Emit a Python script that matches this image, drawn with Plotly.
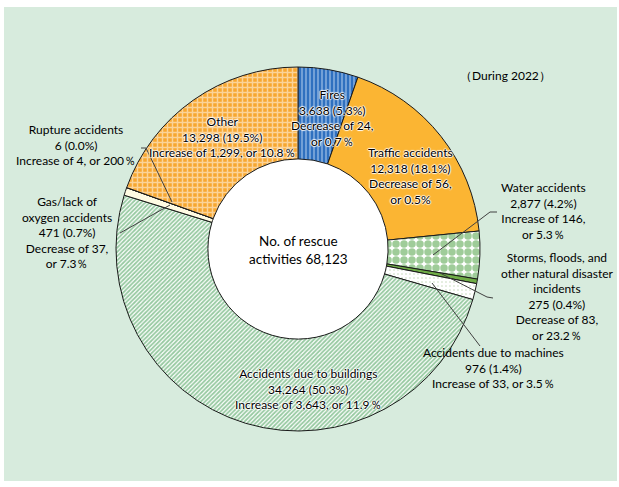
import plotly.graph_objects as go

# ---- data ----
categories = ["Fires", "Traffic accidents", "Water accidents",
              "Storms, floods, and other natural disaster incidents",
              "Accidents due to machines", "Accidents due to buildings",
              "Gas/lack of oxygen accidents", "Rupture accidents", "Other"]
values = [3638, 12318, 2877, 275, 976, 34264, 471, 6, 13298]
total = 68123

W, H = 619, 487
FONT = "Lato"
GREEN_BG = "#d7ebdd"

# slice styles
bg_colors = ["#2f70bf", "#fbb533", "#ffffff", "#70ad47", "#ffffff", "#ffffff", "#fffbe3", "#ffffff", "#f7a730"]
pat_shapes = ["|", "", ".", "", ".", "/", "", "", "+"]
pat_fg = ["#c4dcf3", "#fbb533", "#3f9a34", "#70ad47", "#7fae6a", "#2f9443", "#fffbe3", "#ffffff", "#ffffff"]
pat_size = [4, 6, 8, 6, 4, 3, 6, 6, 5]
pat_sol = [0.45, 0.3, 0.7, 0.3, 0.12, 0.6, 0.3, 0.3, 0.5]

cx, cy, R = 298, 249, 182
HOLE = 0.495
fig = go.Figure()
fig.add_trace(go.Pie(
    labels=categories, values=values, sort=False, direction="clockwise", rotation=0,
    hole=HOLE, textinfo="none", hoverinfo="label+value+percent",
    marker=dict(colors=bg_colors, line=dict(color="#1a1a1a", width=1),
                pattern=dict(shape=pat_shapes, fgcolor=pat_fg, bgcolor=bg_colors,
                             size=pat_size, solidity=pat_sol, fillmode="overlay")),
    domain=dict(x=[(cx - R) / W, (cx + R) / W], y=[1 - (cy + R) / H, 1 - (cy - R) / H]),
    showlegend=False,
))

halo = "1px 0px 1px white, -1px 0px 1px white, 0px 1px 1px white, 0px -1px 1px white"

labels = [
    ("（During 2022）", 505, 75, False, 12),
    ("Fires<br>3,638 (5.3%)<br>Decrease of 24,<br>or 0.7％", 332, 118, True, 12),
    ("Other<br>13,298 (19.5%)<br>Increase of 1,299, or 10.8％", 222, 137, True, 12),
    ("Traffic accidents<br>12,318 (18.1%)<br>Decrease of 56,<br>or 0.5%", 410, 176, True, 12),
    ("Accidents due to buildings<br>34,264 (50.3%)<br>Increase of 3,643, or 11.9％", 308, 389, True, 12),
    ("Rupture accidents<br>6 (0.0%)<br>Increase of 4, or 200％", 76, 145, False, 12),
    ("Gas/lack of<br>oxygen accidents<br>471 (0.7%)<br>Decrease of 37,<br>or 7.3％", 67, 232, False, 12),
    ("Water accidents<br>2,877 (4.2%)<br>Increase of 146,<br>or 5.3％", 543, 211, False, 12),
    ("Storms, floods, and<br>other natural disaster<br>incidents<br>275 (0.4%)<br>Decrease of 83,<br>or 23.2％", 557, 296, False, 12),
    ("Accidents due to machines<br>976 (1.4%)<br>Increase of 33, or 3.5％", 493, 368, False, 12),
    ("No. of rescue<br>activities " + f"{total:,}", cx, cy + 1, False, 13.5),
]
for txt, x, y, h, sz in labels:
    fnt = dict(family=FONT, size=sz, color="#000000")
    if h:
        fnt["shadow"] = halo
    fig.add_annotation(text=txt, x=x, y=y, xref="x", yref="y", showarrow=False,
                       align="center", xanchor="center", yanchor="middle", font=fnt)

# leader lines
leaders = [
    [(141, 148), (146, 148), (172, 202)],
    [(120, 233), (170, 205)],
    [(497, 212), (490, 212), (433, 255)],
    [(493, 298), (487, 297), (440, 273)],
    [(480, 346), (432, 283)],
]
for pts in leaders:
    path = "M " + " L ".join(f"{px},{py}" for px, py in pts)
    fig.add_shape(type="path", path=path, xref="x", yref="y",
                  line=dict(color="#404040", width=1), layer="above")

# background panel and white centre
fig.add_shape(type="rect", x0=4, y0=7, x1=617, y1=481, xref="x", yref="y",
              fillcolor=GREEN_BG, line=dict(width=0), layer="below")
r_in = R * HOLE
fig.add_shape(type="circle", x0=cx - r_in, y0=cy - r_in, x1=cx + r_in, y1=cy + r_in,
              xref="x", yref="y", fillcolor="white", line=dict(width=0), layer="below")

fig.update_layout(
    width=W, height=H, margin=dict(l=0, r=0, t=0, b=0),
    paper_bgcolor="white", plot_bgcolor="rgba(0,0,0,0)",
    xaxis=dict(range=[0, W], visible=False, fixedrange=True),
    yaxis=dict(range=[H, 0], visible=False, fixedrange=True),
    showlegend=False,
)
fig.write_html("out.html", config={"displayModeBar": False},
               post_script="document.body.style.margin='0px';document.body.style.overflow='hidden';")
